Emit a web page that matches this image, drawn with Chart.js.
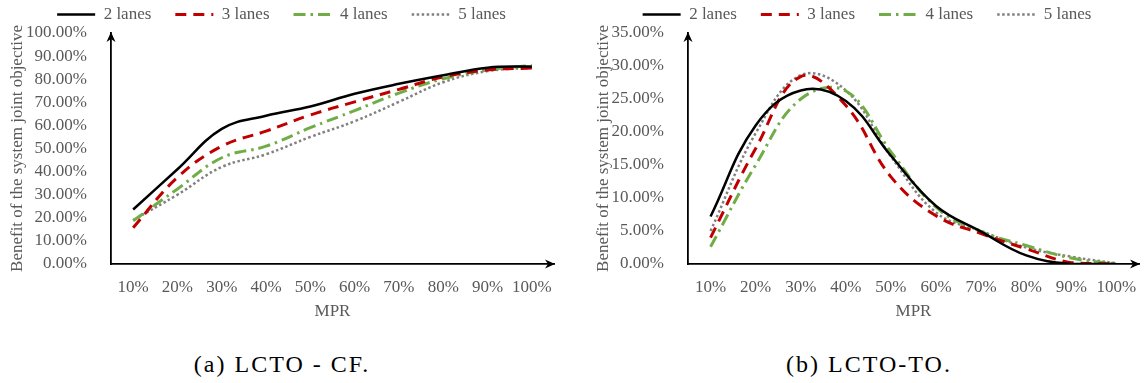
<!DOCTYPE html>
<html><head><meta charset="utf-8">
<script src="https://cdn.jsdelivr.net/npm/chart.js@4"></script>
<style>
html,body{margin:0;padding:0;background:#fff;width:1146px;height:383px;overflow:hidden;position:relative;font-family:"Liberation Serif","Times New Roman",Tinos,"DejaVu Serif",serif;}
canvas{position:absolute;}
.cap{position:absolute;top:350px;font-size:24px;line-height:28px;letter-spacing:2px;color:#000;white-space:nowrap;transform:translateX(-50%);}
</style></head><body>
<canvas id="c1" width="573" height="340" style="left:0;top:-18px"></canvas>
<canvas id="c2" width="573" height="340" style="left:573px;top:-18px"></canvas>
<div class="cap" style="left:282px">(a) LCTO - CF.</div>
<div class="cap" style="left:869px">(b) LCTO-TO.</div>
<script>
// ---- data ----
const categories = ['10%','20%','30%','40%','50%','60%','70%','80%','90%','100%'];
const seriesNames = ['2 lanes','3 lanes','4 lanes','5 lanes'];

// (a) LCTO - CF  (values in %)
const cf2Lanes = [23.6, 41.0, 58.5, 64.2, 68.2, 73.7, 78.0, 81.7, 85.0, 85.5];
const cf3Lanes = [15.7, 37.5, 51.0, 57.5, 64.5, 70.2, 75.6, 81.0, 84.0, 84.8];
const cf4Lanes = [18.7, 32.5, 46.0, 51.0, 59.0, 66.4, 74.0, 80.2, 84.0, 86.0];
const cf5Lanes = [19.0, 30.0, 42.0, 47.5, 55.0, 61.8, 70.2, 78.7, 83.5, 85.0];

// (b) LCTO-TO  (values in %)
const to2Lanes = [7.2, 21.0, 26.3, 24.7, 16.4, 8.8, 4.9, 1.3, 0.0, 0.0];
const to3Lanes = [4.0, 17.5, 28.4, 24.0, 13.2, 7.3, 4.6, 2.3, 0.2, 0.0];
const to4Lanes = [2.6, 15.0, 25.0, 26.2, 17.0, 8.6, 4.9, 2.8, 0.9, 0.0];
const to5Lanes = [5.0, 19.8, 28.6, 26.3, 16.3, 7.8, 5.0, 2.5, 1.1, 0.1];

const cfYMax = 100, cfYStep = 10;
const toYMax = 35, toYStep = 5;
const yTitle = 'Benefit of the system joint objective';
const xTitle = 'MPR';

// ---- styles ----
const styles = [
  {borderColor:'#000000', borderWidth:2.5, borderDash:[]},
  {borderColor:'#C00000', borderWidth:3, borderDash:[11,7]},
  {borderColor:'#70AD47', borderWidth:3, borderDash:[12,5,2.5,5]},
  {borderColor:'#808080', borderWidth:2.5, borderDash:[2.5,2.5]}
];
const FONT = '"Liberation Serif", "Times New Roman", Tinos, "DejaVu Serif", serif';
const TXT = '#595959';

const arrowPlugin = {
  id:'arrows',
  afterDraw(chart){
    const {ctx, chartArea:{left,right,top,bottom}} = chart;
    ctx.save();
    ctx.fillStyle = '#000';
    ctx.beginPath();
    ctx.moveTo(left, top-1); ctx.lineTo(left-4.5, top+9); ctx.lineTo(left, top+6); ctx.lineTo(left+4.5, top+9);
    ctx.closePath(); ctx.fill();
    ctx.beginPath();
    ctx.moveTo(right+1, bottom); ctx.lineTo(right-9, bottom-4.5); ctx.lineTo(right-6, bottom); ctx.lineTo(right-9, bottom+4.5);
    ctx.closePath(); ctx.fill();
    ctx.restore();
  }
};

function makeChart(id, series, yMax, yStep, padding, yWidth) {
  const datasets = series.map((d, i) => ({
    label: seriesNames[i], data: d,
    borderColor: styles[i].borderColor, borderWidth: styles[i].borderWidth, borderDash: styles[i].borderDash,
    backgroundColor: styles[i].borderColor,
    pointRadius: 0, tension: 0.4, fill: false, borderCapStyle: 'butt'
  }));
  return new Chart(document.getElementById(id), {
    type: 'line',
    data: { labels: categories, datasets },
    plugins: [arrowPlugin],
    options: {
      responsive: false, animation: false, devicePixelRatio: 1,
      layout: { padding },
      plugins: {
        tooltip: { enabled: false },
        legend: {
          position: 'top',
          labels: {
            usePointStyle: true, pointStyle: 'line', pointStyleWidth: 38,
            color: TXT, padding: 24,
            font: { family: FONT, size: 17 },
            generateLabels: (chart) => Chart.defaults.plugins.legend.labels.generateLabels(chart).map((it, i) => Object.assign(it, {
              lineDash: styles[i].borderDash, lineWidth: styles[i].borderWidth,
              strokeStyle: styles[i].borderColor, lineCap: 'butt', pointStyle: 'line'
            }))
          }
        }
      },
      scales: {
        x: {
          type: 'category', offset: true,
          grid: { display: false },
          border: { display: true, color: '#000', width: 1.8 },
          ticks: { color: TXT, font: { family: FONT, size: 17 }, padding: 5, maxRotation: 0, autoSkip: false },
          title: { display: true, text: xTitle, color: TXT, font: { family: FONT, size: 17, lineHeight: 1 }, padding: 0 },
          afterFit: s => { s.height = 56.5; }
        },
        y: {
          min: 0, max: yMax,
          grid: { display: false },
          border: { display: true, color: '#000', width: 1.8 },
          ticks: { stepSize: yStep, autoSkip: false, color: TXT, font: { family: FONT, size: 17 }, padding: 16,
                   callback: v => v.toFixed(2) + '%' },
          title: { display: true, text: yTitle, color: TXT, font: { family: FONT, size: 17, lineHeight: 1 }, padding: 0 },
          afterFit: s => { s.width = yWidth; }
        }
      }
    }
  });
}

makeChart('c1', [cf2Lanes, cf3Lanes, cf4Lanes, cf5Lanes], cfYMax, cfYStep, {left:9, right:19, top:0, bottom:1.5}, 102);
makeChart('c2', [to2Lanes, to3Lanes, to4Lanes, to5Lanes], toYMax, toYStep, {left:22, right:7, top:0, bottom:1.5}, 93);
</script>
</body></html>
